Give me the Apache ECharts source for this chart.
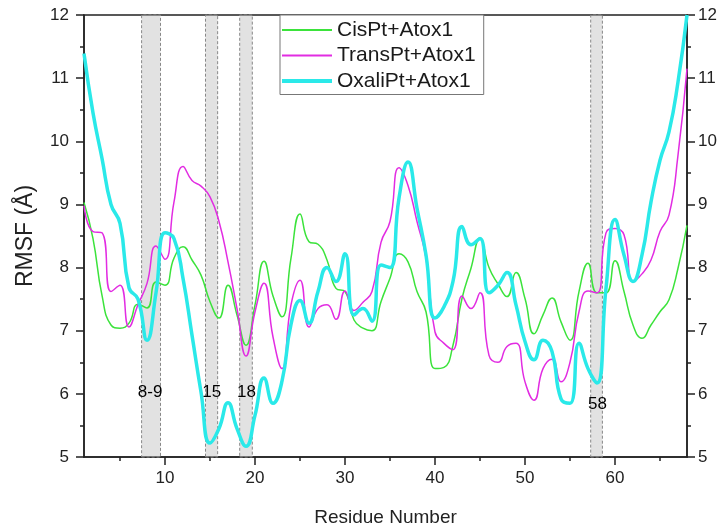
<!DOCTYPE html>
<html>
<head>
<meta charset="utf-8">
<script src="https://cdn.jsdelivr.net/npm/echarts@6/dist/echarts.min.js"></script>
<style>html,body{margin:0;padding:0;background:#fff}#c{width:725px;height:532px}</style>
</head>
<body>
<div id="c"></div>
<script>
const residues = [1,2,3,4,5,6,7,8,9,10,11,12,13,14,15,16,17,18,19,20,21,22,23,24,25,26,27,28,29,30,31,32,33,34,35,36,37,38,39,40,41,42,43,44,45,46,47,48,49,50,51,52,53,54,55,56,57,58,59,60,61,62,63,64,65,66,67,68];
const seriesNames = ['CisPt+Atox1', 'TransPt+Atox1', 'OxaliPt+Atox1'];
const cisPt = [9.03,8.46,7.56,7.09,7.04,7.12,7.42,7.36,7.77,7.72,8.15,8.33,8.12,7.88,7.46,7.2,7.72,7.25,6.77,7.41,8.1,7.55,7.22,8.15,8.85,8.41,8.37,8.12,7.67,7.62,7.17,7.04,7.0,7.46,7.83,8.22,8.09,7.62,7.3,6.4,6.42,6.77,7.51,7.99,8.47,8.0,7.74,7.54,7.92,7.51,6.95,7.25,7.52,7.14,6.85,7.62,8.07,7.6,7.6,8.11,7.62,7.09,6.88,7.09,7.3,7.49,7.99,8.67];
const transPt = [8.98,8.57,8.55,7.62,7.72,7.06,7.41,7.75,8.34,8.13,9.04,9.6,9.38,9.29,9.12,8.73,8.09,7.35,6.6,7.3,7.75,6.9,6.4,7.41,7.8,7.06,7.35,7.41,7.18,7.63,7.32,7.45,7.62,8.4,8.73,9.58,9.3,8.73,8.15,6.98,6.8,6.7,7.55,7.35,7.6,6.61,6.5,6.75,6.8,6.19,5.9,6.4,6.55,6.19,6.5,7.3,7.63,7.6,8.55,8.62,8.52,7.78,7.9,8.12,8.57,8.83,9.78,11.15];
const oxaliPt = [11.39,10.45,9.73,9.0,8.7,7.68,7.5,6.85,7.6,8.55,8.46,7.83,6.93,6.03,5.22,5.45,5.86,5.45,5.17,5.66,6.25,5.85,6.2,7.1,7.48,7.12,7.62,8.0,7.78,8.22,7.25,7.35,7.15,8.04,8.0,9.1,9.67,8.94,8.2,7.2,7.38,7.78,8.65,8.36,8.46,7.6,7.72,7.92,7.41,6.83,6.54,6.85,6.67,5.92,5.85,6.8,6.4,6.17,7.67,8.76,8.2,7.78,8.2,9.04,9.7,10.15,10.94,12.0];
const bandStart = [7.4, 14.5, 18.3, 57.3];
const bandEnd = [9.5, 15.85, 19.7, 58.6];
const bandLabels = ['8-9', '15', '18', '58'];
const bandLabelX = [8.35, 15.2, 19.05, 58.05];
const bandLabelY = [6.03, 6.03, 6.03, 5.84];
const xMajorTicks = [10, 20, 30, 40, 50, 60];
const xMinorTicks = [5, 15, 25, 35, 45, 55, 65];

const FONT = "'Liberation Sans', Arial, Helvetica, sans-serif";
const AX = '#222';
const colors = ['#3be33b', '#e22ce2', '#2ae9e9'];
const widths = [1.5, 1.5, 3.5];
const values = [cisPt, transPt, oxaliPt];

const lineSeries = seriesNames.map((name, k) => ({
  name: name, type: 'line', smooth: 0.5, symbol: 'none', z: 2 + k,
  data: residues.map((r, i) => [r, values[k][i]]),
  lineStyle: { color: colors[k], width: widths[k] },
  itemStyle: { color: colors[k] }
}));

const bandSeries = {
  name: 'bands', type: 'line', z: 10, silent: true, data: [],
  markArea: {
    silent: true,
    itemStyle: { color: 'rgba(190,190,190,0.45)', borderColor: '#888', borderWidth: 1, borderType: [3, 2] },
    data: bandStart.map((s, i) => [{ xAxis: s }, { xAxis: bandEnd[i] }])
  }
};

const labelSeries = {
  name: 'bandLabels', type: 'scatter', zlevel: 1, z: 12, symbol: 'circle', symbolSize: 1, silent: true,
  itemStyle: { color: 'rgba(255,255,255,0)' },
  data: bandLabels.map((t, i) => [bandLabelX[i], bandLabelY[i], t]),
  label: { show: true, position: 'inside', formatter: p => p.value[2], fontSize: 17, fontFamily: FONT,
           color: '#000', textBorderWidth: 0, textBorderColor: 'transparent', opacity: 1 }
};

const yAxisCommon = {
  type: 'value', min: 5, max: 12, interval: 1,
  axisLine: { show: true, onZero: false, lineStyle: { color: AX, width: 1.5 } },
  axisTick: { show: true, length: 8, lineStyle: { color: AX, width: 1.5 } },
  minorTick: { show: true, splitNumber: 2, length: 4, lineStyle: { color: AX, width: 1.5 } },
  splitLine: { show: false }, minorSplitLine: { show: false }
};

const legendIcons = widths.map(w => 'path://M0,0 L50,0 L50,' + (w + 0.5) + ' L0,' + (w + 0.5) + ' Z');

const chart = echarts.init(document.getElementById('c'));
chart.setOption({
  animation: false,
  backgroundColor: '#fff',
  grid: { left: 84, right: 38, top: 15, bottom: 75, show: true, borderColor: AX, borderWidth: 1.5, backgroundColor: 'transparent' },
  legend: {
    data: seriesNames.map((n, k) => ({ name: n, icon: legendIcons[k] })),
    orient: 'vertical', left: 280, top: 15,
    itemWidth: 50, itemHeight: 14, itemGap: 4.5, padding: [4.5, 8, 3, 2],
    borderColor: '#777', borderWidth: 1, backgroundColor: '#fff',
    textStyle: { fontSize: 21, lineHeight: 21, fontFamily: FONT, color: '#1a1a1a' }
  },
  xAxis: [
    {
      type: 'value', min: 1, max: 68, position: 'bottom',
      axisLine: { show: true, onZero: false, lineStyle: { color: AX, width: 1.5 } },
      axisTick: { show: true, customValues: xMajorTicks, length: 8, lineStyle: { color: AX, width: 1.5 } },
      axisLabel: { customValues: xMajorTicks, margin: 13, fontSize: 17, fontFamily: FONT, color: '#222' },
      splitLine: { show: false },
      name: 'Residue Number', nameLocation: 'middle', nameGap: 51,
      nameTextStyle: { fontSize: 19, fontFamily: FONT, color: '#222' }
    },
    {
      type: 'value', min: 1, max: 68, position: 'bottom',
      axisLine: { show: false },
      axisTick: { show: true, customValues: xMinorTicks, length: 4, lineStyle: { color: AX, width: 1.5 } },
      axisLabel: { show: false }, splitLine: { show: false }
    }
  ],
  yAxis: [
    Object.assign({}, yAxisCommon, {
      position: 'left',
      axisLabel: { margin: 15, fontSize: 17, fontFamily: FONT, color: '#222' },
      name: 'RMSF (Å)', nameLocation: 'middle', nameGap: 47,
      nameTextStyle: { fontSize: 23, fontFamily: FONT, color: '#222' }
    }),
    Object.assign({}, yAxisCommon, {
      position: 'right',
      axisLabel: { margin: 11, fontSize: 17, fontFamily: FONT, color: '#222' }
    })
  ],
  series: lineSeries.concat([bandSeries, labelSeries])
});
</script>
</body>
</html>
